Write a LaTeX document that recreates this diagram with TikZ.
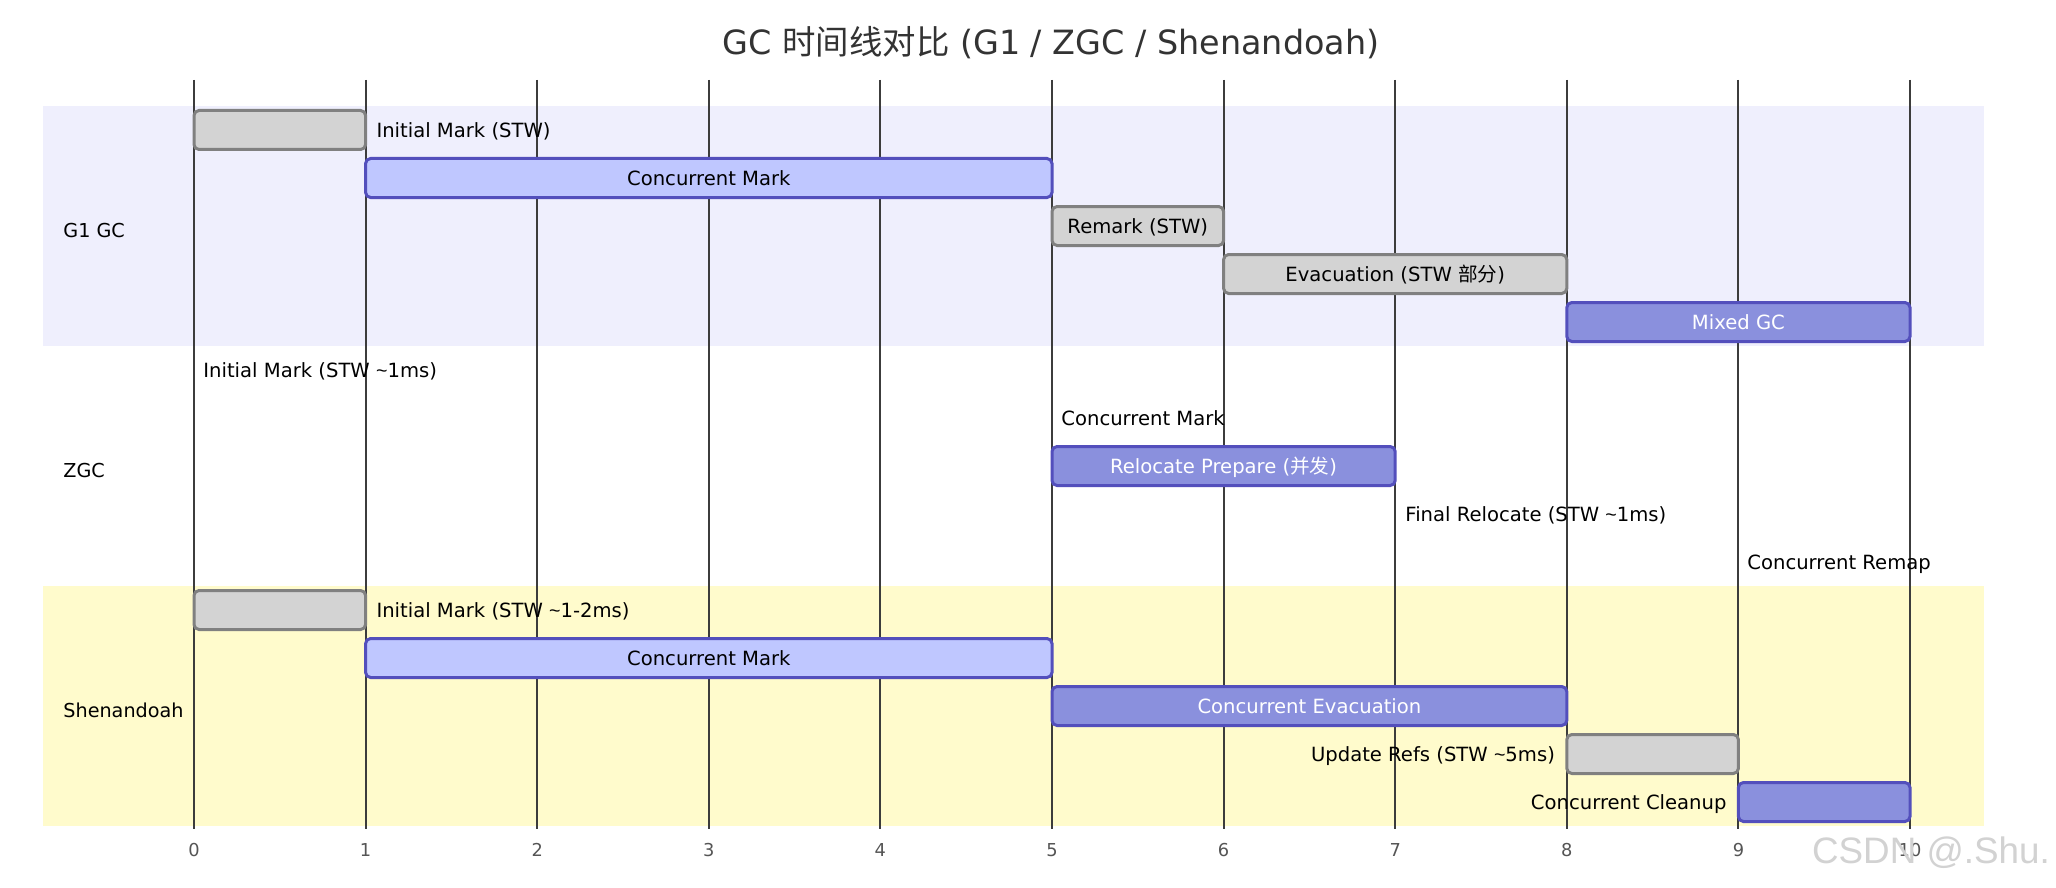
\documentclass[tikz,border=0pt]{standalone}
\usepackage{fontspec}
\setmainfont{DejaVu Sans}
\newfontfamily\cjk{Noto Sans CJK SC}
\newfontfamily\wmfont{Liberation Sans}
\definecolor{bandA}{HTML}{EFEFFD}
\definecolor{bandC}{HTML}{FFFBCC}
\definecolor{doneFill}{HTML}{D3D3D3}
\definecolor{doneStroke}{HTML}{808080}
\definecolor{activeFill}{HTML}{BFC7FF}
\definecolor{taskFill}{HTML}{8A90DD}
\definecolor{taskStroke}{HTML}{534FBC}
\definecolor{gridGray}{HTML}{3C3C3C}
\definecolor{tickGray}{HTML}{555555}
\definecolor{titleGray}{HTML}{333333}
\definecolor{wmGray}{HTML}{D2D2D2}
\newcommand\tasksize{\fontsize{9.8pt}{11pt}\selectfont}
\newcommand\sectsize{\fontsize{9.6pt}{11pt}\selectfont}
\newcommand\ticksize{\fontsize{8.9pt}{10pt}\selectfont}
\newcommand\titlesize{\fontsize{16.7pt}{19pt}\selectfont}
\newcommand\wmsize{\fontsize{18.4pt}{20pt}\selectfont}
\newcommand\tld{{\wmfont\char"007E}}
\begin{document}
\begin{tikzpicture}[x=0.5pt,y=-0.5pt,
  ganttbar/.style={draw, line width=1.5pt, rounded corners=2.5pt, minimum height=19.5pt,
    inner sep=0pt, font=\tasksize, text height=0.73em, text depth=0pt},
  donebar/.style={ganttbar, fill=doneFill, draw=doneStroke, text=black},
  activebar/.style={ganttbar, fill=activeFill, draw=taskStroke, text=black},
  taskbar/.style={ganttbar, fill=taskFill, draw=taskStroke, text=white},
  lbl/.style={font=\tasksize, text=black, inner sep=0pt, text height=0.73em, text depth=0pt},
  sect/.style={font=\sectsize, text=black, anchor=west, inner sep=0pt, text height=0.73em, text depth=0pt},
  ticklbl/.style={font=\ticksize, text=tickGray, inner sep=0pt, text height=0.73em, text depth=0pt},
  gridline/.style={draw=gridGray, line width=1pt}
]
\useasboundingbox (0,0) rectangle (2056,888);
\fill[white] (0,0) rectangle (2056,888);

% section bands
\fill[bandA] (43,106) rectangle (1984,346);
\fill[bandC] (43,586) rectangle (1984,826);

% grid lines and tick labels
\foreach \i in {0,...,10}{
  \coordinate (gt\i) at ({194+171.6*\i},80);
  \coordinate (gb\i) at ({194+171.6*\i},829);
  \draw[gridline] (gt\i) -- (gb\i);
  \node[ticklbl] (tick\i) at ({194+171.6*\i},849) {\i};
}

% title
\node[font=\titlesize, text=titleGray, inner sep=0pt, text height=0.73em, text depth=0pt] (title) at (1051,47)
  {GC {\cjk 时间线对比} (G1 / ZGC / Shenandoah)};

% section labels
\node[sect] (sG1) at (63,230) {G1 GC};
\node[sect] (sZGC) at (63,470) {ZGC};
\node[sect] (sShen) at (63,710) {Shenandoah};

% G1 GC
\node[donebar, minimum width=85.8pt] (g1im) at (279.8,130) {};
\node[lbl, anchor=west] (g1imL) at ([xshift=4.5pt]g1im.east) {Initial Mark (STW)};
\node[activebar, minimum width=343.2pt] (g1cm) at (708.8,178) {Concurrent Mark};
\node[donebar, minimum width=85.8pt] (g1rm) at (1137.8,226) {Remark (STW)};
\node[donebar, minimum width=171.6pt] (g1ev) at (1395.2,274) {Evacuation (STW {\cjk 部分})};
\node[taskbar, minimum width=171.6pt] (g1mx) at (1738.4,322) {Mixed GC};

% ZGC
\node[lbl, anchor=west] (zim) at (203,370) {Initial Mark (STW \tld1ms)};
\node[lbl, anchor=west] (zcm) at (1061,418) {Concurrent Mark};
\node[taskbar, minimum width=171.6pt] (zrp) at (1223.6,466) {Relocate Prepare ({\cjk 并发})};
\node[lbl, anchor=west] (zfr) at (1405,514) {Final Relocate (STW \tld1ms)};
\node[lbl, anchor=west] (zcr) at (1747,562) {Concurrent Remap};

% Shenandoah
\node[donebar, minimum width=85.8pt] (shim) at (279.8,610) {};
\node[lbl, anchor=west] (shimL) at ([xshift=4.5pt]shim.east) {Initial Mark (STW \tld1-2ms)};
\node[activebar, minimum width=343.2pt] (shcm) at (708.8,658) {Concurrent Mark};
\node[taskbar, minimum width=257.4pt] (shce) at (1309.4,706) {Concurrent Evacuation};
\node[donebar, minimum width=85.8pt] (shur) at (1652.6,754) {};
\node[lbl, anchor=east] (shurL) at ([xshift=-5pt]shur.west) {Update Refs (STW \tld5ms)};
\node[taskbar, minimum width=85.8pt] (shcc) at (1824.2,802) {};
\node[lbl, anchor=east] (shccL) at ([xshift=-5pt]shcc.west) {Concurrent Cleanup};

% watermark
\node[font=\wmfont\wmsize, text=wmGray, inner sep=0pt] (wm) at (1931,853) {CSDN @.Shu.};
\end{tikzpicture}
\end{document}
